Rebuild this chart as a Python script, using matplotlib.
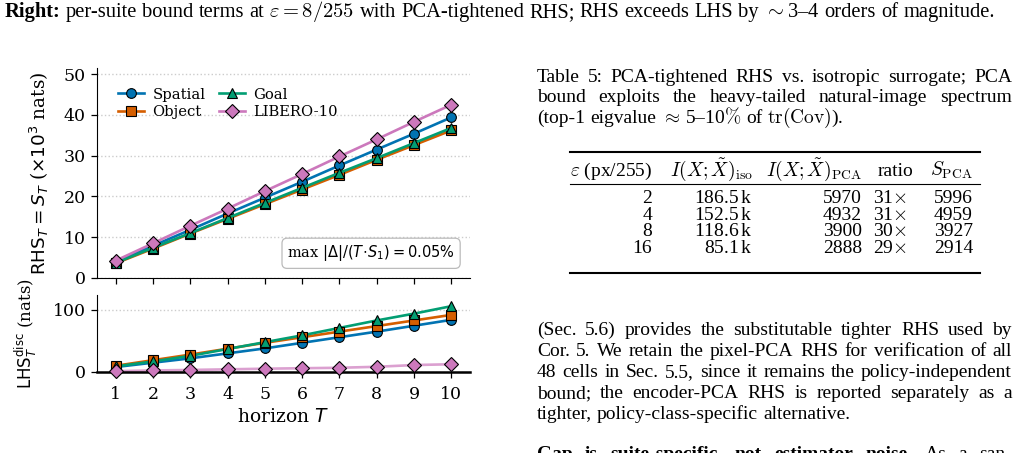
import matplotlib
matplotlib.use("Agg")
import matplotlib.pyplot as plt
from matplotlib.lines import Line2D
import re

# ---------------- data ----------------
horizon = [1, 2, 3, 4, 5, 6, 7, 8, 9, 10]
suites = ["Spatial", "Object", "Goal", "LIBERO-10"]

rhs_spatial = [3.9, 7.9, 11.8, 15.8, 19.7, 23.6, 27.6, 31.5, 35.4, 39.4]
rhs_object = [3.6, 7.2, 10.9, 14.5, 18.1, 21.7, 25.3, 29.0, 32.6, 36.2]
rhs_goal = [3.7, 7.4, 11.0, 14.7, 18.4, 22.1, 25.8, 29.4, 33.1, 36.8]
rhs_libero = [4.25, 8.5, 12.8, 17.0, 21.3, 25.5, 29.8, 34.0, 38.3, 42.5]

lhs_spatial = [8, 15, 22, 30, 38, 47, 56, 65, 74.5, 84]
lhs_object = [10, 19, 28, 37.5, 47, 56, 65, 74, 83, 92]
lhs_goal = [9, 17, 26, 37, 48, 59, 71, 83, 94, 106]
lhs_libero = [1.3, 2.5, 3.3, 4.3, 5.3, 6.1, 6.8, 8.4, 11.2, 12.5]

tab_eps = ["2", "4", "8", "16"]
tab_iso = ["186.5", "152.5", "118.6", "85.1"]
tab_pca = ["5970", "4932", "3900", "2888"]
tab_ratio = ["31", "31", "30", "29"]
tab_spca = ["5996", "4959", "3927", "2914"]

colors = ["#0173b2", "#d55e00", "#029e73", "#cc78bc"]
markers = ["o", "s", "^", "D"]
msizes = [7, 6.5, 7.5, 7]

W, H = 1020, 453
plt.rcParams["font.family"] = "DejaVu Serif"
plt.rcParams["mathtext.fontset"] = "dejavusans"

fig = plt.figure(figsize=(W / 100, H / 100), dpi=100)


def fx(x):
    return x / W


def fy(y):
    return 1 - y / H


# ---------------- chart ----------------
ax1 = fig.add_axes([fx(97), fy(278), fx(470) - fx(97), fy(68) - fy(278)])
ax2 = fig.add_axes([fx(97), fy(372), fx(470) - fx(97), fy(295) - fy(372)], sharex=ax1)

rhs_all = [rhs_spatial, rhs_object, rhs_goal, rhs_libero]
lhs_all = [lhs_spatial, lhs_object, lhs_goal, lhs_libero]
for i in range(4):
    ax1.plot(horizon, rhs_all[i], color=colors[i], marker=markers[i], ms=msizes[i],
             mec="black", mew=0.8, lw=1.9, label=suites[i])
    ax2.plot(horizon, lhs_all[i], color=colors[i], lw=1.9,
             alpha=0.7 if i == 3 else 1.0)
    ax2.plot(horizon, lhs_all[i], color=colors[i], marker=markers[i], ms=msizes[i],
             mec="black", mew=0.8, lw=0, clip_on=False, zorder=3)

for ax in (ax1, ax2):
    ax.spines["top"].set_visible(False)
    ax.spines["right"].set_visible(False)
    ax.tick_params(labelsize=12.5, length=4, width=0.9, pad=4)
    ax.yaxis.grid(True, ls=":", color="#cccccc", lw=1)
    ax.set_axisbelow(True)

ax1.set_xlim(0.5, 10.5)
ax1.set_ylim(0, 51.5)
ax1.set_yticks([0, 10, 20, 30, 40, 50])
ax1.tick_params(labelbottom=False)
ax2.set_ylim(0, 124)
ax2.set_yticks([0, 100])
ax2.set_xticks(horizon)
ax2.tick_params(axis="x", pad=6)
ax2.spines["bottom"].set_linewidth(1.8)

ax1.set_ylabel(r"$\mathrm{RHS}_T = S_T$ ($\times10^3$ nats)", fontsize=13.2)
ax1.yaxis.set_label_coords(-0.122, 0.5)
ax2.set_ylabel(r"$\mathrm{LHS}_T^{\mathrm{disc}}$ (nats)", fontsize=12)
ax2.yaxis.set_label_coords(-0.155, 0.5)
ax2.set_xlabel(r"horizon $T$", fontsize=13.5, labelpad=4)

ax1.legend(loc="upper left", ncol=2, frameon=False, fontsize=10.6,
           bbox_to_anchor=(0.02, 0.97), columnspacing=0.9, handlelength=1.8,
           handletextpad=0.55, labelspacing=0.25)
ax1.text(0.96, 0.07, r"max $|\Delta|/(T\!\cdot\!S_1) = 0.05\%$", transform=ax1.transAxes,
         ha="right", va="bottom", fontsize=10.5,
         bbox=dict(boxstyle="round,pad=0.35", fc="white", ec="#bbbbbb", lw=0.9))

# ---------------- text on the right ----------------
renderer = fig.canvas.get_renderer()
TXT = dict(family="Liberation Serif", math_fontfamily="cm", va="baseline")
FS = 14


def width(s, weight="normal", size=FS):
    t = fig.text(0, 0, s, fontsize=size, fontweight=weight, **TXT)
    w = t.get_window_extent(renderer).width
    t.remove()
    return w


def put_line(tokens, x0, x1, y, justify=True, size=FS):
    # tokens: list of (word, weight)
    ws = [width(s, w, size) for s, w in tokens]
    sp = width("a a", size=size) - width("aa", size=size)
    if justify and len(tokens) > 1:
        gap = (x1 - x0 - sum(ws)) / (len(tokens) - 1)
    else:
        gap = sp
    x = x0
    for (s, w), wd in zip(tokens, ws):
        fig.text(fx(x), fy(y), s, fontsize=size, fontweight=w, **TXT)
        x += wd + gap


def words(s, weight="normal"):
    return [(p, weight) for p in re.findall(r"\S+", s)]


# top line
put_line(words("Right:", "bold") + words(r"per-suite bound terms at $\varepsilon=8/255$ with PCA-tightened RHS; "
                                         r"RHS exceeds LHS by $\sim$3–4 orders of magnitude."),
         5, 995, 17, justify=False, size=14.8)

X0, X1 = 537, 1012
put_line(words("Table 5: PCA-tightened RHS vs. isotropic surrogate; PCA"), X0, X1, 82)
put_line(words("bound exploits the heavy-tailed natural-image spectrum"), X0, X1, 102)
put_line(words(r"(top-1 eigvalue $\approx$ 5–10$\%$ of $\mathrm{tr}(\mathrm{Cov})$)."), X0, X1, 123,
         justify=False)

para = [
    "(Sec. 5.6) provides the substitutable tighter RHS used by",
    "Cor. 5. We retain the pixel-PCA RHS for verification of all",
    "48 cells in Sec. 5.5, since it remains the policy-independent",
    "bound; the encoder-PCA RHS is reported separately as a",
]
for k, s in enumerate(para):
    put_line(words(s), X0, X1, 335 + 21 * k)
put_line(words("tighter, policy-class-specific alternative."), X0, X1, 419, justify=False)
put_line(words("Gap is suite-specific, not estimator noise.", "bold") + words("As a san-"),
         X0, X1, 459)

# table
for yy, lw in [(152, 1.5), (184, 0.8), (273, 1.5)]:
    fig.add_artist(Line2D([fx(570), fx(980)], [fy(yy), fy(yy)], color="black", lw=lw))

col_right = [652, 753, 862, 913, 973]
val_right = [652, 753, 862, 907, 973]
heads = [r"$\varepsilon$ (px/255)", r"$I(X;\tilde{X})_{\rm iso}$", r"$I(X;\tilde{X})_{\rm PCA}$",
         "ratio", r"$S_{\rm PCA}$"]
for xr, h in zip(col_right, heads):
    fig.text(fx(xr), fy(176), h, fontsize=FS, ha="right", **TXT)
for r in range(4):
    y = 203.5 + 16.4 * r
    cells = [tab_eps[r], tab_iso[r] + r"$\,$k", tab_pca[r], tab_ratio[r] + r"$\times$", tab_spca[r]]
    for xr, c in zip(val_right, cells):
        fig.text(fx(xr), fy(y), c, fontsize=FS, ha="right", **TXT)

fig.savefig("out.png", dpi=100)
